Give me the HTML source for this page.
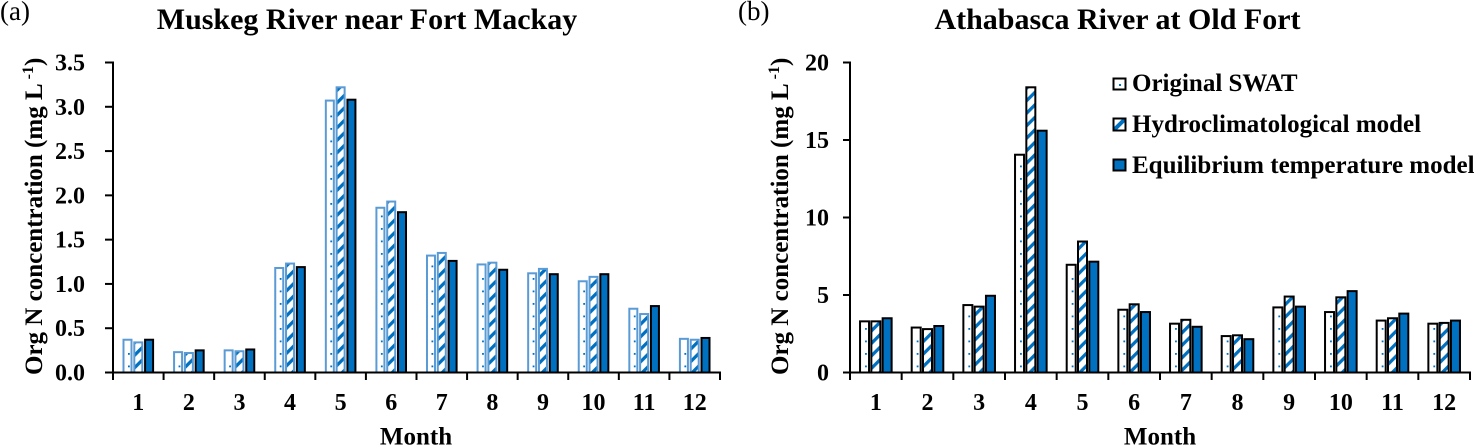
<!DOCTYPE html>
<html>
<head>
<meta charset="utf-8">
<style>
html,body{margin:0;padding:0;background:#fff;}
svg{display:block;}
text{font-family:"Liberation Serif",serif;fill:#000;}
.b{font-weight:bold;}
</style>
</head>
<body>
<svg id="root" xmlns="http://www.w3.org/2000/svg" width="1474" height="445" viewBox="0 0 1474 445">
<defs>
<pattern id="hatch" patternUnits="userSpaceOnUse" width="12.5" height="12.5" patternTransform="skewY(-45)">
<rect x="0" y="0" width="12.5" height="4.6" fill="#0070C0"/>
</pattern>
<clipPath id="swatchClip"><rect x="1113.5" y="118.5" width="12" height="12"/></clipPath>
</defs>
<g id="chartA"></g>
<g id="chartB"></g>
<g id="legend">
<g>
<rect x="1113.5" y="78.5" width="12" height="11" fill="#fff" stroke="#000" stroke-width="2"/>
<rect x="1119" y="84" width="2" height="2" fill="#0070C0"/>
<text class="b" x="1132" y="91" font-size="25">Original SWAT</text>
</g>
<g>
<rect x="1113.5" y="118.5" width="12" height="12" fill="#fff"/>
<line x1="1113" y1="131" x2="1126" y2="118" stroke="#0070C0" stroke-width="4" clip-path="url(#swatchClip)"/>
<rect x="1113.5" y="118.5" width="12" height="12" fill="none" stroke="#000" stroke-width="2"/>
<text class="b" x="1132" y="132" font-size="25">Hydroclimatological model</text>
</g>
<g>
<rect x="1113.5" y="159.5" width="12" height="11" fill="#0070C0" stroke="#000" stroke-width="2"/>
<text class="b" x="1132" y="173" font-size="25">Equilibrium temperature model</text>
</g>
</g>
<script>
var months = ['1','2','3','4','5','6','7','8','9','10','11','12'];
var muskegOriginal = [0.37,0.23,0.25,1.18,3.07,1.86,1.32,1.22,1.12,1.03,0.72,0.38];
var muskegHydro = [0.34,0.22,0.24,1.23,3.22,1.93,1.35,1.24,1.17,1.08,0.66,0.37];
var muskegEquilibrium = [0.37,0.25,0.26,1.19,3.08,1.81,1.26,1.16,1.11,1.11,0.75,0.39];
var muskegTicks = ['0.0','0.5','1.0','1.5','2.0','2.5','3.0','3.5'];
var athabascaOriginal = [3.3,2.9,4.35,14.05,6.95,4.05,3.15,2.35,4.2,3.9,3.35,3.15];
var athabascaHydro = [3.3,2.8,4.25,18.4,8.45,4.4,3.4,2.4,4.9,4.85,3.5,3.2];
var athabascaEquilibrium = [3.5,3,4.95,15.6,7.15,3.9,2.95,2.15,4.25,5.25,3.8,3.35];
var athabascaTicks = ['0','5','10','15','20'];

var NS = 'http://www.w3.org/2000/svg';
function make(parent, tag, attrs, txt) {
  var el = document.createElementNS(NS, tag);
  for (var k in attrs) el.setAttribute(k, attrs[k]);
  if (txt !== undefined) el.textContent = txt;
  parent.appendChild(el);
  return el;
}
function drawChart(host, cfg) {
  var x0 = cfg.x0, x1 = cfg.x1, y0 = 372.5, yTop = 62.5;
  var yMax = parseFloat(cfg.ticks[cfg.ticks.length - 1]);
  function yScale(v) { return y0 - (v / yMax) * (y0 - yTop); }
  var band = (x1 - x0) / months.length;
  function xScale(i) { return x0 + band * i; }

  var title = make(host, 'text', {x: cfg.titleX, y: 29, 'font-size': 30, 'text-anchor': 'middle', 'class': 'b'}, cfg.title);
  
  
  var panel = make(host, 'text', {x: cfg.panelX, y: 20, 'font-size': 27}, cfg.panel);
  
  

  months.forEach(function (m, i) {
    var series = [cfg.a[i], cfg.b[i], cfg.c[i]];
    var cx = xScale(i) + band / 2;
    var pitch = cfg.pitch;
    var w = cfg.barW;
    var total = 2 * pitch + w + 2;
    series.forEach(function (v, s) {
      var left = cx - total / 2 + 1 + pitch * s;
      var top = yScale(v);
      var h = y0 - top;
      if (s < 2) {
        var under = make(host, 'rect', {x: left, y: top, width: w, height: h, fill: '#fff'});
        
        
      }
      if (s === 0) {
        for (var d = y0 - 7; d > top + 3; d -= 12.5) {
          var dot = make(host, 'rect', {x: left + w / 2 + 0.5, y: d, width: 1.8, height: 1.8, fill: '#0070C0'});
          
          
        }
      }
      var bar = make(host, 'rect', {
        x: left, y: top, width: w, height: h,
        fill: s === 0 ? 'none' : (s === 1 ? 'url(#hatch)' : '#0070C0'),
        stroke: s === 2 ? '#000' : cfg.stroke,
        'stroke-width': 2
      });
      
      
    });
    var lab = make(host, 'text', {x: cx, y: 410, 'font-size': 24, 'text-anchor': 'middle', 'class': 'b'}, m);
    
    
  });

  var yAxis = make(host, 'line', {x1: x0, y1: yTop - 1, x2: x0, y2: 380, stroke: '#000', 'stroke-width': 2});
  
  
  var xAxis = make(host, 'line', {x1: cfg.tickLeft, y1: y0, x2: x1 + 1, y2: y0, stroke: '#000', 'stroke-width': 2});
  
  

  for (var i = 1; i <= months.length; i++) {
    var t = make(host, 'line', {x1: xScale(i), y1: y0, x2: xScale(i), y2: 380, stroke: '#000', 'stroke-width': 2});
    
    
  }
  cfg.ticks.forEach(function (lbl) {
    var y = yScale(parseFloat(lbl));
    var tk = make(host, 'line', {x1: cfg.tickLeft, y1: y, x2: x0, y2: y, stroke: '#000', 'stroke-width': 2});
    
    
    var tl = make(host, 'text', {x: cfg.labelX, y: y + 8, 'font-size': 24, 'text-anchor': 'end', 'class': 'b'}, lbl);
    
    
  });

  var xt = make(host, 'text', {x: cfg.monthX, y: 444.5, 'font-size': 25, 'text-anchor': 'middle', 'class': 'b'}, 'Month');
  
  

  var yt = make(host, 'text', {x: 0, y: 0, 'font-size': 25, 'class': 'b', transform: 'translate(' + cfg.yTitleX + ',375) rotate(-90)'});
  
  
  make(yt, 'tspan', {}, 'Org N concentration (mg L');
  make(yt, 'tspan', {dy: -9, 'font-size': 16}, ' -1');
  make(yt, 'tspan', {dy: 9}, ')');
}

drawChart(document.getElementById('chartA'), {
  x0: 113, x1: 720, tickLeft: 105, labelX: 85, yTitleX: 42, titleX: 367, panelX: 0, monthX: 416,
  pitch: 10.8, barW: 8,
  title: 'Muskeg River near Fort Mackay', panel: '(a)', stroke: '#5B9BD5',
  a: muskegOriginal, b: muskegHydro, c: muskegEquilibrium, ticks: muskegTicks
});
drawChart(document.getElementById('chartB'), {
  x0: 850, x1: 1470, tickLeft: 843, labelX: 829, yTitleX: 788, titleX: 1117.5, panelX: 738, monthX: 1160,
  pitch: 11.3, barW: 9,
  title: 'Athabasca River at Old Fort', panel: '(b)', stroke: '#000',
  a: athabascaOriginal, b: athabascaHydro, c: athabascaEquilibrium, ticks: athabascaTicks
});
</script>
</svg>
</body>
</html>
